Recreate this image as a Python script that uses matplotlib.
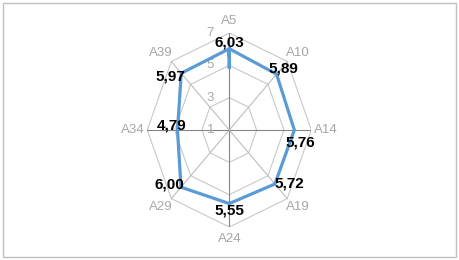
import numpy as np
import matplotlib.pyplot as plt
from matplotlib.patches import Rectangle

categories = ['A5', 'A10', 'A14', 'A19', 'A24', 'A29', 'A34', 'A39']
values = [6.03, 5.89, 5.76, 5.72, 5.55, 6.00, 4.79, 5.97]
value_labels = ['6,03', '5,89', '5,76', '5,72', '5,55', '6,00', '4,79', '5,97']
ticks = [1, 3, 5, 7]
r_min, r_max = 1, 7

# label offsets in pixels (dx, dy)
label_offsets = [(0, 6), (7, 6), (6, -12), (14, 0), (0, -7), (-12, 3), (-6, 5), (-11, -3)]

plt.rcParams['font.family'] = ['Liberation Sans Narrow', 'Liberation Sans', 'DejaVu Sans']

fig = plt.figure(figsize=(4.59, 2.60), dpi=100)
fig.patches.append(Rectangle((3 / 459, 3 / 260), 453 / 459, 254 / 260, transform=fig.transFigure,
                             fill=False, edgecolor='#c0c0c0', linewidth=1))

# axes stretched so the radar is taller than wide, like the original
ax = fig.add_axes([0.3209, 0.1269, 0.3573, 0.746])
ax.set_xlim(-1, 1)
ax.set_ylim(-1, 1)
ax.axis('off')

n = len(categories)
angles = np.arange(n) * 2 * np.pi / n
sx, sy = np.sin(angles), np.cos(angles)

def scale(v):
    return (np.asarray(v, dtype=float) - r_min) / (r_max - r_min)

# rings
for t in ticks[1:]:
    r = scale(t)
    ax.plot(np.append(r * sx, r * sx[0]), np.append(r * sy, r * sy[0]),
            color='#c8c8c8', lw=0.8, zorder=1)
# spokes
for i in range(n):
    col = '#868686' if i % 2 == 0 else '#bdbdbd'
    ax.plot([0, sx[i]], [0, sy[i]], color=col, lw=0.8, zorder=1)

# tick labels
for t in ticks:
    ax.annotate(str(t), (0, scale(t)), xytext=(-19, 0), textcoords='offset pixels',
                ha='center', va='center', fontsize=9.5, color='#a6a6a6', zorder=2)

# category labels
for i, c in enumerate(categories):
    ax.annotate(c, (sx[i], sy[i]), xytext=(sx[i] * 15, sy[i] * 12), textcoords='offset pixels',
                ha='center', va='center', fontsize=9.5, color='#a6a6a6', annotation_clip=False)

# data line
r = scale(values)
ax.plot(np.append(r * sx, r * sx[0]), np.append(r * sy, r * sy[0]),
        color='#5b9bd5', lw=2.3, zorder=3, solid_joinstyle='miter')

for i, lab in enumerate(value_labels):
    dx, dy = label_offsets[i]
    ax.annotate(lab, (r[i] * sx[i], r[i] * sy[i]), xytext=(dx, dy), textcoords='offset pixels',
                ha='center', va='center', fontsize=11, fontweight='bold', color='black', zorder=4,
                annotation_clip=False)

fig.savefig('out.png', dpi=100)
